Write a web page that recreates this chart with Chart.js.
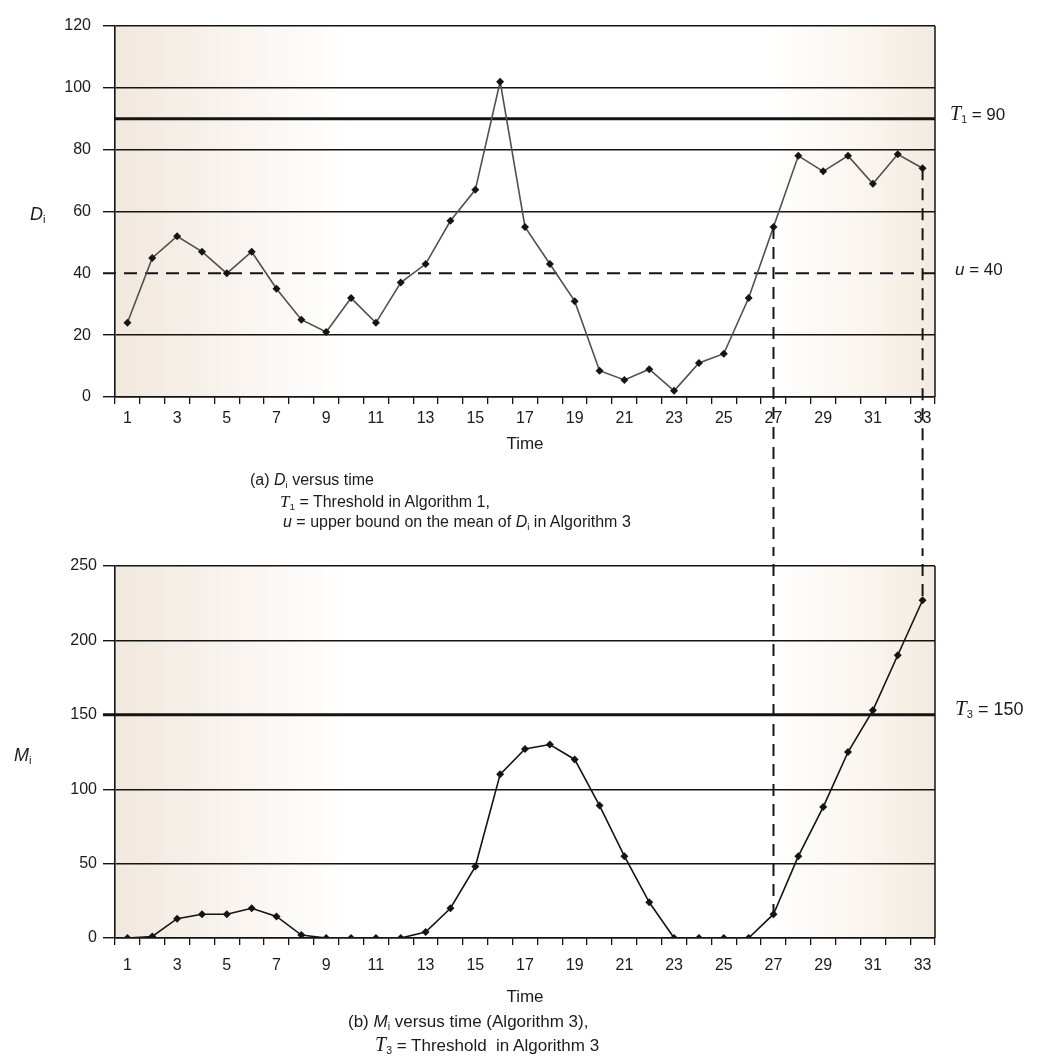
<!DOCTYPE html>
<html><head><meta charset="utf-8">
<script src="https://cdn.jsdelivr.net/npm/chart.js@4.4.1/dist/chart.umd.min.js"></script>
<style>
html,body{margin:0;padding:0;background:#fff}
body{width:1059px;height:1063px;overflow:hidden;position:relative;font-family:"Liberation Sans",Arial,sans-serif;color:#1b1b1b}
canvas{position:absolute;left:0}
#c1{top:0}
#c2{top:550px}
.t{position:absolute;white-space:nowrap;line-height:1}
.s{font-family:"Liberation Serif",serif;font-style:italic}
sub{font-size:62%;vertical-align:-0.28em;line-height:0}
.n{font-family:"Liberation Sans Narrow","Liberation Sans",Arial,sans-serif;font-size:16px}
</style></head><body>
<canvas id="c1" width="1059" height="550"></canvas>
<canvas id="c2" width="1059" height="513"></canvas>

<div class="t" style="left:30px;top:205px;font-size:18px"><i>D</i><sub>i</sub></div>
<div class="t" style="left:14px;top:746px;font-size:18px"><i>M</i><sub>i</sub></div>

<div class="t" style="left:950px;top:103px;font-size:17px"><span class="s" style="font-size:20px">T</span><sub>1</sub> = 90</div>
<div class="t" style="left:955px;top:261px;font-size:17px"><i>u</i> = 40</div>
<div class="t" style="left:955px;top:698px;font-size:18px"><span class="s" style="font-size:21px">T</span><sub>3</sub> = 150</div>

<div class="t n" style="left:250px;top:472px">(a) <i>D</i><sub>i</sub> versus time</div>
<div class="t n" style="left:280px;top:493px"><span class="s" style="font-size:17px">T</span><sub>1</sub> = Threshold in Algorithm 1,</div>
<div class="t n" style="left:283px;top:514px"><i>u</i> = upper bound on the mean of <i>D</i><sub>i</sub> in Algorithm 3</div>

<div class="t" style="left:348px;top:1013px;font-size:17px">(b) <i>M</i><sub>i</sub> versus time (Algorithm 3),</div>
<div class="t" style="left:375px;top:1034px;font-size:17px"><span class="s" style="font-size:20px">T</span><sub>3</sub> = Threshold&nbsp; in Algorithm 3</div>

<script>
// ---- data ----
const times = [1,2,3,4,5,6,7,8,9,10,11,12,13,14,15,16,17,18,19,20,21,22,23,24,25,26,27,28,29,30,31,32,33];
const dValues = [24,45,52,47,40,47,35,25,21,32,24,37,43,57,67,102,55,43,31,8.5,5.5,9,2,11,14,32,55,78,73,78,69,78.5,74];
const mValues = [0,1,13,16,16,20,14.5,2,0,0,0,0,4,20,48,110,127,130,120,89,55,24,0,0,0,0,16,55,88,125,153,190,227];
const dTicks = [0,20,40,60,80,100,120];
const mTicks = [0,50,100,150,200,250];
const threshold1 = 90;
const upperBound = 40;
const threshold3 = 150;
const markerTimes = [27,33];

const INK = '#141414';
const tickFont = {family:'"Liberation Sans", Arial, sans-serif', size:16};

const bgPlugin = {
  id:'bg',
  beforeDraw(chart){
    const {ctx, chartArea:a} = chart;
    const g = ctx.createLinearGradient(a.left,0,a.right,0);
    g.addColorStop(0,'#f1e8de');
    g.addColorStop(0.14,'#f8f3ee');
    g.addColorStop(0.28,'#ffffff');
    g.addColorStop(0.8,'#ffffff');
    g.addColorStop(0.91,'#faf5ef');
    g.addColorStop(1,'#f3ebe1');
    ctx.save();
    ctx.fillStyle = g;
    ctx.fillRect(a.left,a.top,a.right-a.left,a.bottom-a.top);
    ctx.restore();
  }
};

function refLinesPlugin(lines){
  return {
    id:'refLines',
    beforeDatasetsDraw(chart){
      const {ctx, chartArea:a, scales:{y}} = chart;
      ctx.save();
      ctx.strokeStyle = INK; ctx.lineWidth = 1.5; ctx.setLineDash([]);
      ctx.beginPath(); ctx.moveTo(a.right,a.top); ctx.lineTo(a.right,a.bottom); ctx.stroke();
      lines.forEach(l=>{
        const py = y.getPixelForValue(l.value);
        ctx.lineWidth = l.width;
        ctx.setLineDash(l.dash || []);
        ctx.beginPath(); ctx.moveTo(a.left - l.ext, py); ctx.lineTo(a.right, py); ctx.stroke();
      });
      ctx.restore();
    }
  };
}

function dropLinesPlugin(values, toBottom){
  return {
    id:'dropLines',
    afterDatasetsDraw(chart){
      const {ctx, scales:{x,y}} = chart;
      ctx.save();
      ctx.strokeStyle = INK; ctx.lineWidth = 2; ctx.setLineDash([12,8]);
      markerTimes.forEach(t=>{
        const i = times.indexOf(t);
        const px = x.getPixelForValue(i);
        const py = y.getPixelForValue(values[i]);
        ctx.beginPath();
        if (toBottom){ ctx.moveTo(px,py); ctx.lineTo(px,chart.height); }
        else { ctx.lineDashOffset = 6; ctx.moveTo(px,0); ctx.lineTo(px,py); }
        ctx.stroke();
      });
      ctx.restore();
    }
  };
}

function makeChart(id, values, yTicks, opts){
  return new Chart(document.getElementById(id), {
    type:'line',
    data:{
      labels: times.map(String),
      datasets:[{
        data: values,
        borderColor: opts.lineColor,
        borderWidth: 1.6,
        tension: 0,
        pointStyle:'rectRot',
        pointRadius: 4,
        pointBackgroundColor: INK,
        pointBorderColor: INK,
        pointBorderWidth: 0
      }]
    },
    options:{
      responsive:false,
      animation:false,
      devicePixelRatio:1,
      layout:{padding:{top:opts.top,right:124,left:0,bottom:0}},
      plugins:{legend:{display:false},tooltip:{enabled:false}},
      scales:{
        x:{
          type:'category',
          offset:true,
          afterFit(s){ s.height = opts.xHeight; },
          grid:{offset:true,drawOnChartArea:false,drawTicks:true,tickLength:7,color:INK,lineWidth:1.3},
          border:{display:true,color:INK,width:1.6},
          ticks:{autoSkip:false,maxRotation:0,minRotation:0,padding:opts.xPad,color:'#1b1b1b',font:tickFont,
            callback:(v,i)=> (times[i] % 2 === 1 ? String(times[i]) : '')},
          title:{display:true,text:'Time',color:'#1b1b1b',font:{family:'"Liberation Sans", Arial, sans-serif',size:17},
            padding:{top:0,bottom:opts.titlePad}}
        },
        y:{
          min: yTicks[0], max: yTicks[yTicks.length-1],
          afterFit(s){ s.width = 115; },
          afterBuildTicks(s){ s.ticks = yTicks.map(v=>({value:v})); },
          grid:{
            color:(c)=> (c.tick && opts.skipGrid.includes(c.tick.value)) ? 'rgba(0,0,0,0)' : INK,
            lineWidth:1.4,tickLength:12,drawTicks:true},
          border:{display:true,color:INK,width:1.6},
          ticks:{padding:opts.yPad,color:'#1b1b1b',font:tickFont}
        }
      }
    },
    plugins:[bgPlugin, refLinesPlugin(opts.lines), dropLinesPlugin(values, opts.toBottom)]
  });
}

makeChart('c1', dValues, dTicks, {
  lineColor:'#505050', top:26, xHeight:153, xPad:5, yPad:12, titlePad:95,
  toBottom:true, skipGrid:[upperBound],
  lines:[{value:threshold1,width:3,ext:0},{value:upperBound,width:2,dash:[13,8],ext:12}]
});
makeChart('c2', mValues, mTicks, {
  lineColor:INK, top:16, xHeight:125, xPad:11, yPad:6, titlePad:55,
  toBottom:false, skipGrid:[threshold3],
  lines:[{value:threshold3,width:3,ext:12}]
});
</script>
</body></html>
